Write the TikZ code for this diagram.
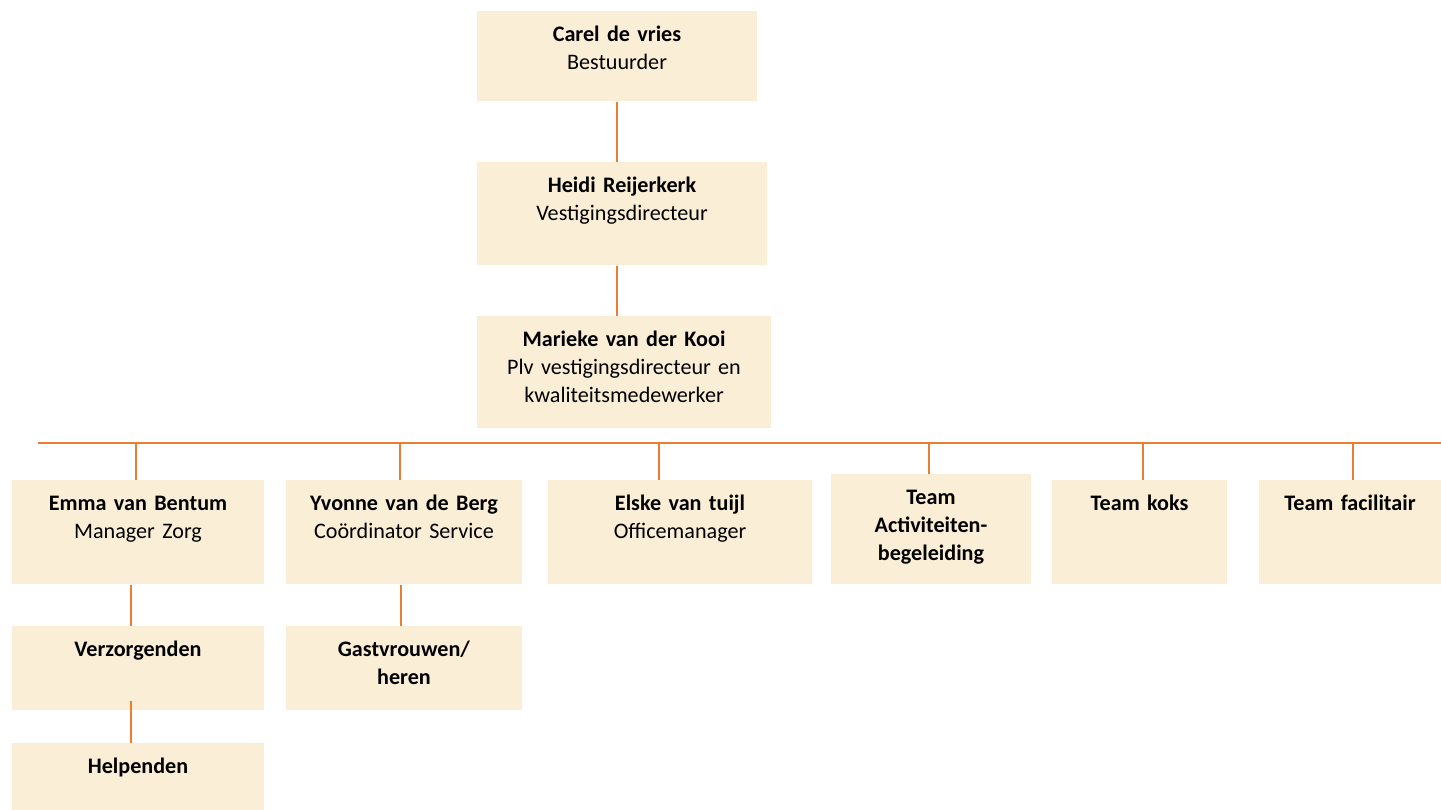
\documentclass[tikz,border=0pt]{standalone}
\usepackage{fontspec}
\setmainfont{Carlito}
\usepackage{tikz}
\definecolor{orgline}{RGB}{237,125,49}
\definecolor{orgfill}{RGB}{250,238,214}
\tikzset{
  orgbox/.style={rectangle,fill=orgfill,anchor=north,align=center,inner xsep=0pt,inner ysep=0pt,
    text height=0.6cm,font=\fontsize{12.6}{15.9}\selectfont},
  link/.style={draw=orgline,line width=1.4pt}
}

\begin{document}
\begin{tikzpicture}[x=0.02cm,y=-0.02cm]
  \useasboundingbox (0,0) rectangle (1441,810);

  % Management
  \node[orgbox,text width=5.6cm,text depth=1.2cm] (carel) at (617,11) {\textbf{Carel de vries}\\Bestuurder};
  \node[orgbox,text width=5.82cm,text depth=1.46cm] (heidi) at (622,162) {\textbf{Heidi Reijerkerk}\\Vestigingsdirecteur};
  \node[orgbox,text width=5.88cm,text depth=1.64cm] (marieke) at (624,316) {\textbf{Marieke van der Kooi}\\Plv vestigingsdirecteur en\\kwaliteitsmedewerker};

  \draw[link] (carel.south) -- (carel.south |- heidi.north);
  \draw[link] (carel.south |- heidi.south) -- (carel.south |- marieke.north);

  % Bus line
  \coordinate (busL) at (38,443);
  \coordinate (busR) at (1441,443);
  \draw[link] (busL) -- (busR);

  % Departments
  \node[orgbox,text width=5.04cm,text depth=1.48cm] (emma) at (138,480) {\textbf{Emma van Bentum}\\Manager Zorg};
  \node[orgbox,text width=4.72cm,text depth=1.48cm] (yvonne) at (404,480) {\textbf{Yvonne van de Berg}\\Coördinator Service};
  \node[orgbox,text width=5.28cm,text depth=1.48cm] (elske) at (680,480) {\textbf{Elske van tuijl}\\Officemanager};
  \node[orgbox,text width=4.0cm,text depth=1.6cm] (act) at (931,474) {\textbf{Team}\\\textbf{Activiteiten-}\\\textbf{begeleiding}};
  \node[orgbox,text width=3.5cm,text depth=1.48cm] (koks) at (1139.5,480) {\textbf{Team koks}};
  \node[orgbox,text width=3.64cm,text depth=1.48cm] (fac) at (1350,480) {\textbf{Team facilitair}};

  \foreach \n/\x in {emma/136,yvonne/400,elske/659,act/929,koks/1143,fac/1353}
    \draw[link] (\x,443) -- (\x,443 |- \n.north);

  % Teams below
  \node[orgbox,text width=5.04cm,text depth=1.08cm] (verz) at (138,626) {\textbf{Verzorgenden}};
  \node[orgbox,text width=4.72cm,text depth=1.08cm] (gast) at (404,626) {\textbf{Gastvrouwen/}\\\textbf{heren}};
  \node[orgbox,text width=5.04cm,text depth=0.74cm] (help) at (138,743) {\textbf{Helpenden}};

  \draw[link] ([xshift=-0.14cm]emma.south) -- ([xshift=-0.14cm]verz.north);
  \draw[link] ([xshift=-0.06cm]yvonne.south) -- ([xshift=-0.06cm]gast.north);
  \draw[link] ([xshift=-0.14cm,yshift=0.2cm]verz.south) -- ([xshift=-0.14cm]help.north);
\end{tikzpicture}
\end{document}
